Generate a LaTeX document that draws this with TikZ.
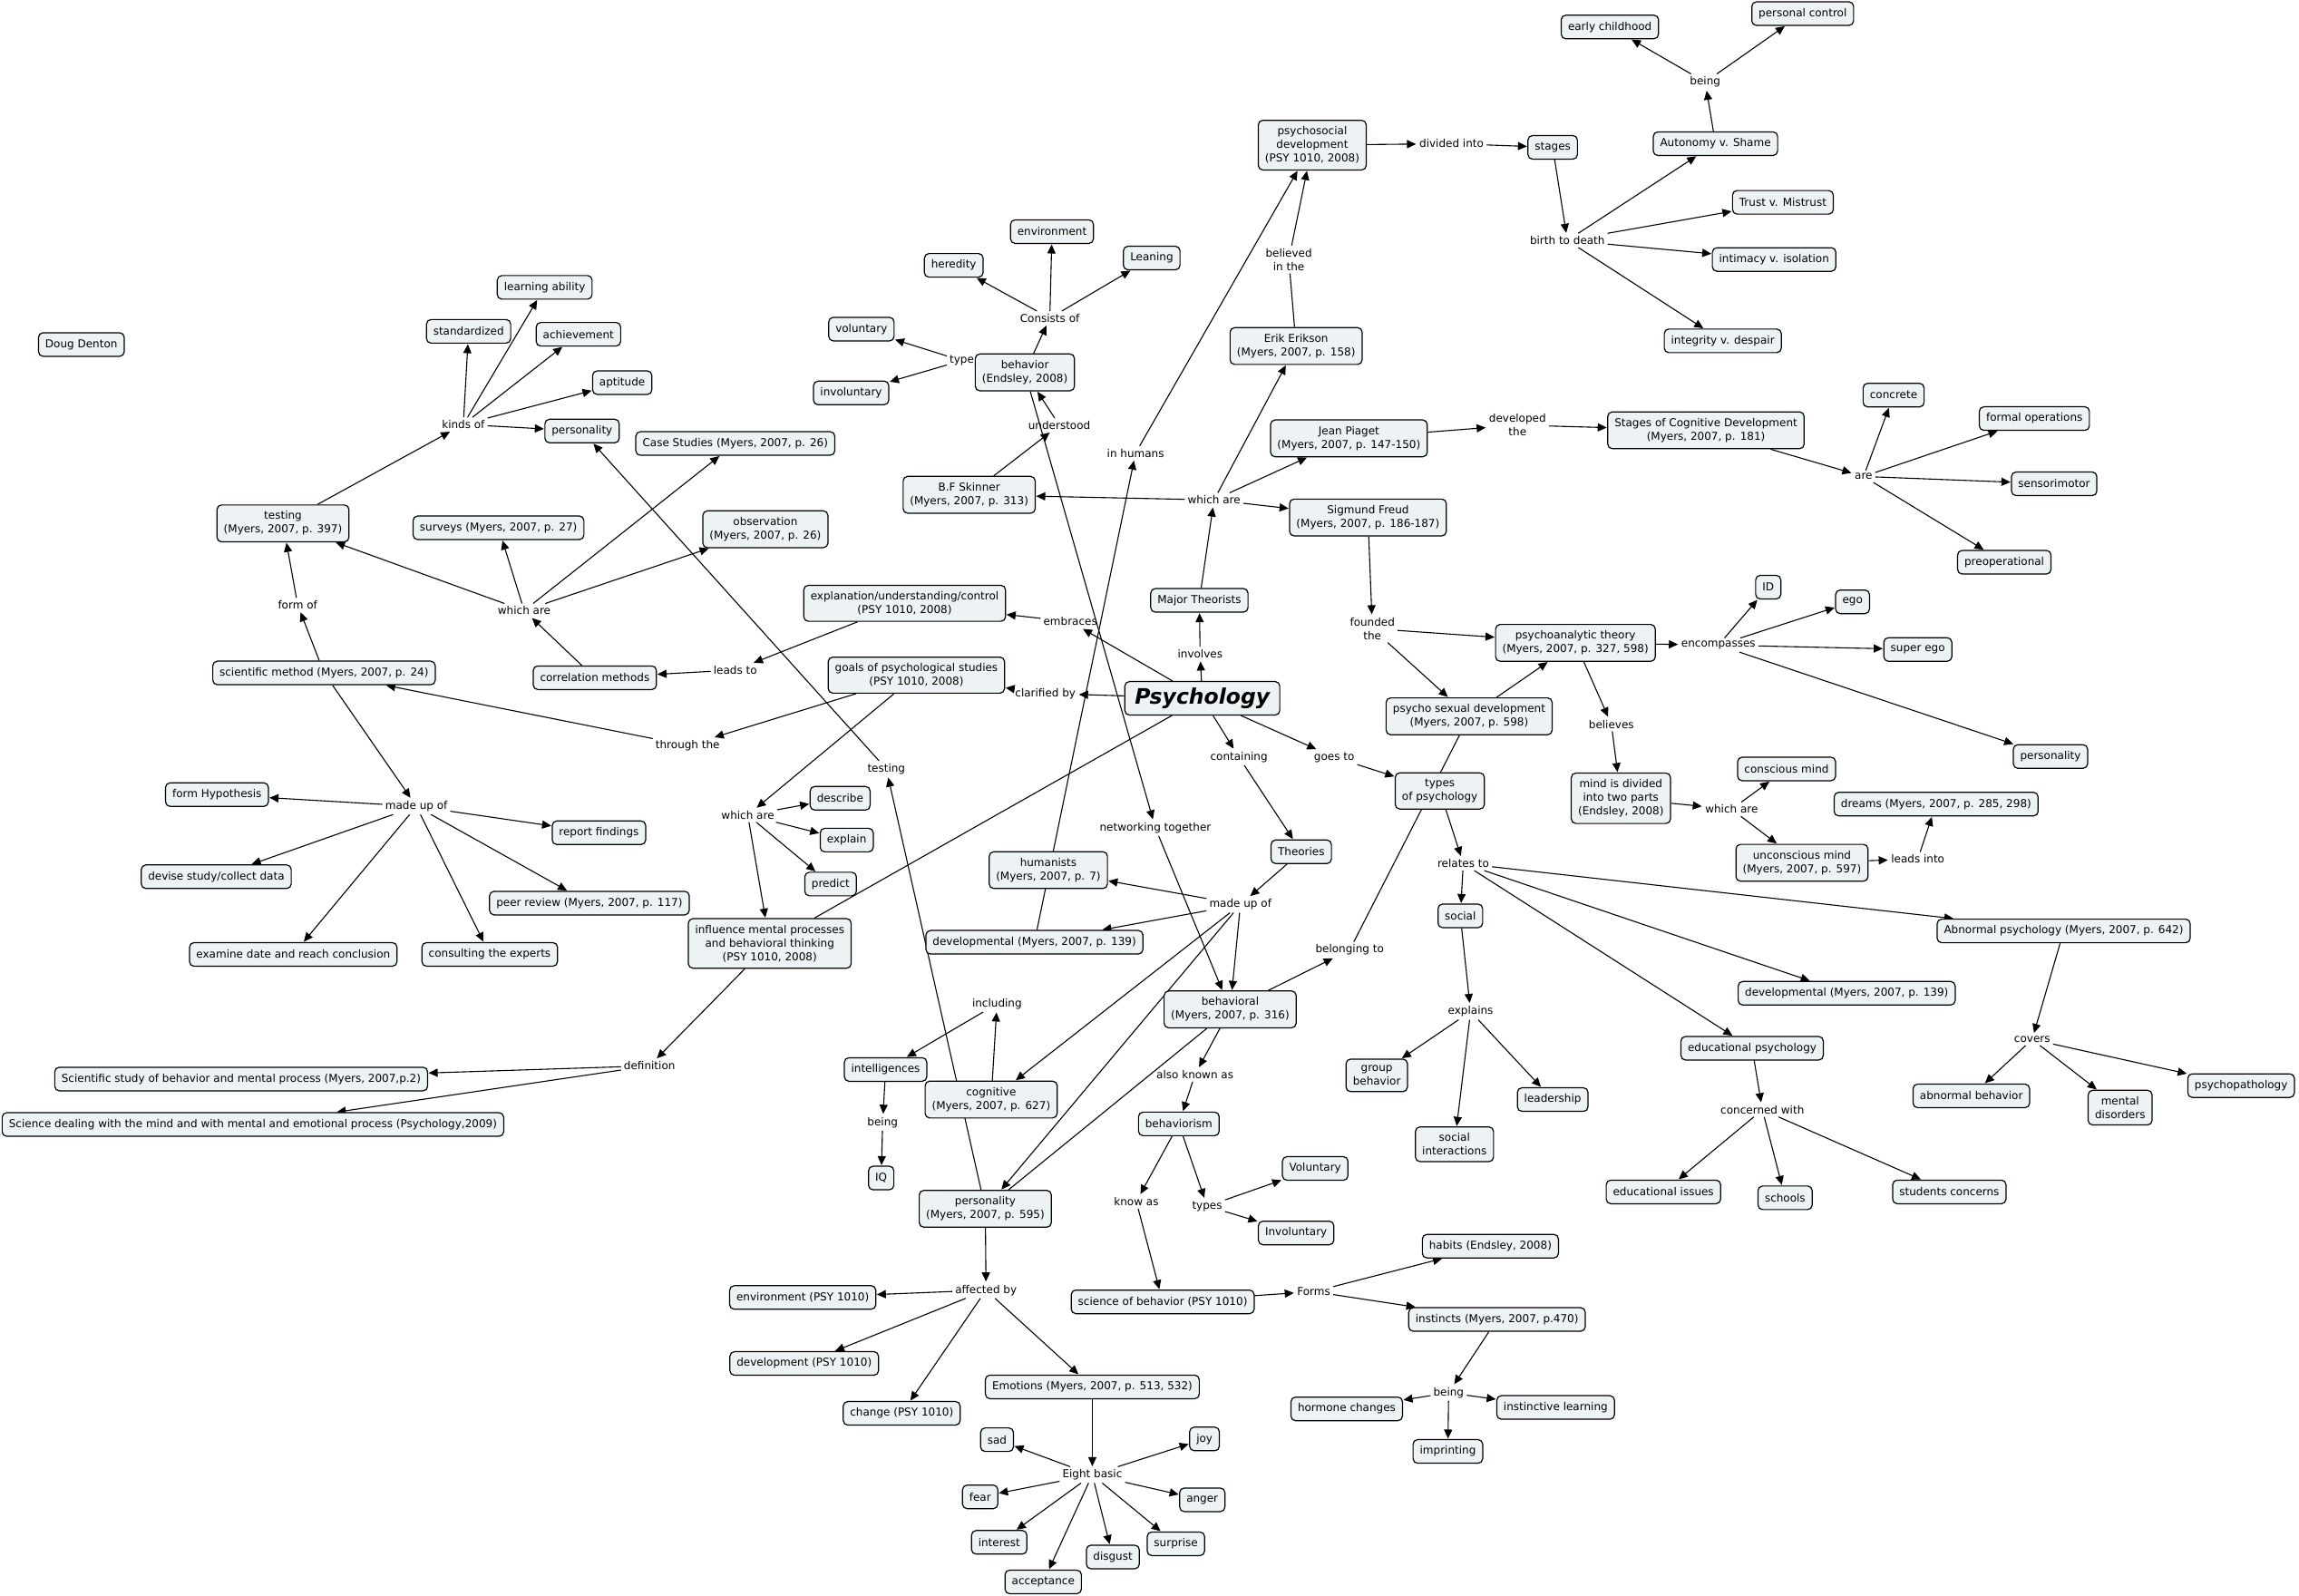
\documentclass[tikz,border=0pt]{standalone}
\usepackage{fontspec}
\setmainfont{DejaVu Sans}
\usetikzlibrary{arrows.meta,backgrounds}
\definecolor{boxfill}{RGB}{237,243,245}
\begin{document}
\begin{tikzpicture}[x=1.61671pt,y=-1.61671pt,
  box/.style={draw=black,line width=1.2pt,fill=boxfill,rounded corners=5pt,inner xsep=7.5pt,inner ysep=7pt,minimum height=26pt,align=center,font=\fontsize{12}{15}\selectfont},
  lab/.style={inner sep=3pt,align=center,font=\fontsize{12}{15}\selectfont},
  arr/.style={line width=1.1pt,-{Triangle[length=10pt,width=9pt]},shorten >=0.5pt},
  lin/.style={line width=1.1pt}]
\useasboundingbox (0,0) rectangle (1568,1088.6);
% ---------- concepts ----------
\node[box] (doug) at (55.5,235) {Doug Denton};
\node[box] (testing) at (193,357) {testing\\(Myers, 2007, p. 397)};
\node[box] (standardized) at (319.6,226) {standardized};
\node[box] (learnab) at (371.5,196) {learning ability};
\node[box] (achieve) at (394.5,228) {achievement};
\node[box] (aptitude) at (424.4,261) {aptitude};
\node[box] (perssmall) at (397,294) {personality};
\node[box] (surveys) at (340,360) {surveys (Myers, 2007, p. 27)};
\node[box] (casest) at (501.5,302.5) {Case Studies (Myers, 2007, p. 26)};
\node[box] (observ) at (522,361) {observation\\(Myers, 2007, p. 26)};
\node[box] (corrmeth) at (405.7,462.3) {correlation methods};
\node[box] (scimeth) at (221,459) {scientific method (Myers, 2007, p. 24)};
\node[box] (explan) at (617,411.5) {explanation/understanding/control\\(PSY 1010, 2008)};
\node[box] (goals) at (625,460.5) {goals of psychological studies\\(PSY 1010, 2008)};
\node[box] (formhyp) at (148,542) {form Hypothesis};
\node[box] (report) at (408.5,568) {report findings};
\node[box] (devise) at (147.5,598) {devise study/collect data};
\node[box] (peer) at (402,616) {peer review (Myers, 2007, p. 117)};
\node[box] (examine) at (200,651) {examine date and reach conclusion};
\node[box] (consult) at (334,651) {consulting the experts};
\node[box] (describe) at (573,544.5) {describe};
\node[box] (explain) at (577.5,573) {explain};
\node[box] (predict) at (566.5,603) {predict};
\node[box] (influence) at (525,643.5) {influence mental processes\\and behavioral thinking\\(PSY 1010, 2008)};
\node[box] (scistudy) at (164.5,736) {Scientific study of behavior and mental process (Myers, 2007,p.2)};
\node[box] (scideal) at (172.5,767) {Science dealing with the mind and with mental and emotional process (Psychology,2009)};
\node[box,font=\fontsize{23.5}{28}\selectfont\bfseries\itshape,inner xsep=11pt,inner ysep=7pt] (psych) at (820,476.3) {Psychology};
\node[box] (majtheo) at (818,409.5) {Major Theorists};
\node[box] (skinner) at (661,337.5) {B.F Skinner\\(Myers, 2007, p. 313)};
\node[box] (behavior) at (699,254) {behavior\\(Endsley, 2008)};
\node[box] (heredity) at (650.5,181) {heredity};
\node[box] (environment) at (717.5,158) {environment};
\node[box] (leaning) at (785.5,176) {Leaning};
\node[box] (voluntary) at (587.5,224.5) {voluntary};
\node[box] (involuntary) at (580.5,268) {involuntary};
\node[box] (erikson) at (884,236) {Erik Erikson\\(Myers, 2007, p. 158)};
\node[box] (piaget) at (920,299) {Jean Piaget\\(Myers, 2007, p. 147-150)};
\node[box] (freud) at (933,353) {Sigmund Freud\\(Myers, 2007, p. 186-187)};
\node[box] (psychosoc) at (895,99) {psychosocial\\development\\(PSY 1010, 2008)};
\node[box] (stages) at (1059,100.5) {stages};
\node[box] (autonomy) at (1170,98) {Autonomy v. Shame};
\node[box] (trust) at (1216,138) {Trust v. Mistrust};
\node[box] (intimacy) at (1210,177) {intimacy v. isolation};
\node[box] (integrity) at (1175,232.5) {integrity v. despair};
\node[box] (earlych) at (1098,18.4) {early childhood};
\node[box] (perscontrol) at (1229.5,9.3) {personal control};
\node[box] (stagescog) at (1163.5,293.5) {Stages of Cognitive Development\\(Myers, 2007, p. 181)};
\node[box] (concrete) at (1291.5,269.5) {concrete};
\node[box] (formal) at (1387.5,285.5) {formal operations};
\node[box] (sensori) at (1401,330) {sensorimotor};
\node[box] (preop) at (1367,383.5) {preoperational};
\node[box] (psychoan) at (1074.5,438.5) {psychoanalytic theory\\(Myers, 2007, p. 327, 598)};
\node[box] (id) at (1206,400.5) {ID};
\node[box] (ego) at (1263.5,410.5) {ego};
\node[box] (superego) at (1308,443) {super ego};
\node[box] (persright) at (1398.5,516) {personality};
\node[box] (mind) at (1105.5,544.5) {mind is divided\\into two parts\\(Endsley, 2008)};
\node[box] (conscious) at (1218.5,524.5) {conscious mind};
\node[box] (unconscious) at (1229,588.5) {unconscious mind\\(Myers, 2007, p. 597)};
\node[box] (dreams) at (1320.5,548.5) {dreams (Myers, 2007, p. 285, 298)};
\node[box] (psychosex) at (1002,488.6) {psycho sexual development\\(Myers, 2007, p. 598)};
\node[box] (typespsy) at (982,539.5) {types\\of psychology};
\node[box] (social) at (996,624.7) {social};
\node[box] (abnormal) at (1407.5,635) {Abnormal psychology (Myers, 2007, p. 642)};
\node[box] (devright) at (1259.5,677.5) {developmental (Myers, 2007, p. 139)};
\node[box] (educpsy) at (1195,715) {educational psychology};
\node[box] (groupbeh) at (939,733.5) {group\\behavior};
\node[box] (socialint) at (992,780.5) {social\\interactions};
\node[box] (leadership) at (1059,750) {leadership};
\node[box] (abnbeh) at (1344.5,747.5) {abnormal behavior};
\node[box] (mental) at (1446,755.5) {mental\\disorders};
\node[box] (psychopath) at (1528.5,740.5) {psychopathology};
\node[box] (eduiss) at (1134.5,813) {educational issues};
\node[box] (schools) at (1217.5,817) {schools};
\node[box] (students) at (1329.5,813) {students concerns};
\node[box] (theories) at (887.5,581) {Theories};
\node[box] (humanists) at (715,593.5) {humanists\\(Myers, 2007, p. 7)};
\node[box] (devtheo) at (705.5,642.7) {developmental (Myers, 2007, p. 139)};
\node[box] (behavioral) at (839,688.5) {behavioral\\(Myers, 2007, p. 316)};
\node[box] (cognitive) at (676,750) {cognitive\\(Myers, 2007, p. 627)};
\node[box] (persbig) at (672,824.5) {personality\\(Myers, 2007, p. 595)};
\node[box] (intelligences) at (604,729.5) {intelligences};
\node[box] (iq) at (601,803.5) {IQ};
\node[box] (behaviorism) at (804,766.6) {behaviorism};
\node[box] (voluntaryB) at (897,797) {Voluntary};
\node[box] (involuntaryB) at (884,841) {Involuntary};
\node[box] (scibeh) at (793,888) {science of behavior (PSY 1010)};
\node[box] (habits) at (1016.5,850) {habits (Endsley, 2008)};
\node[box] (instincts) at (1021,900) {instincts (Myers, 2007, p.470)};
\node[box] (hormone) at (918.5,961) {hormone changes};
\node[box] (instlearn) at (1061,960) {instinctive learning};
\node[box] (imprinting) at (987.5,990) {imprinting};
\node[box] (envpsy) at (547.5,885) {environment (PSY 1010)};
\node[box] (devpsy) at (548.5,930) {development (PSY 1010)};
\node[box] (change) at (615,964) {change (PSY 1010)};
\node[box] (emotions) at (745,946) {Emotions (Myers, 2007, p. 513, 532)};
\node[box] (sad) at (680,982) {sad};
\node[box] (joy) at (821.5,981.5) {joy};
\node[box] (fear) at (668.5,1021) {fear};
\node[box] (anger) at (820,1023) {anger};
\node[box] (interest) at (681.5,1052) {interest};
\node[box] (disgust) at (759,1062) {disgust};
\node[box] (surprise) at (802,1053) {surprise};
\node[box] (acceptance) at (711.5,1079) {acceptance};
% ---------- linking phrases ----------
\node[lab] (kindsof) at (316,289.5) {kinds of};
\node[lab] (whichareA) at (357.5,416.5) {which are};
\node[lab] (formof) at (203,412.5) {form of};
\node[lab] (leadsto) at (501.5,457) {leads to};
\node[lab] (embraces) at (730,424) {embraces};
\node[lab] (clarified) at (713,473) {clarified by};
\node[lab] (throughthe) at (469,508.5) {through the};
\node[lab] (whichareB) at (510,556) {which are};
\node[lab] (madeupA) at (284,550) {made up of};
\node[lab] (testingL) at (604.5,524.5) {testing};
\node[lab] (definition) at (443,727) {definition};
\node[lab] (involves) at (818.5,446) {involves};
\node[lab] (whichareC) at (828,341) {which are};
\node[lab] (understood) at (722.5,290) {understood};
\node[lab] (consists) at (716,217) {Consists of};
\node[lab] (type) at (656,246) {type};
\node[lab] (inhumans) at (774.5,309) {in humans};
\node[lab] (believed) at (879,177) {believed\\in the};
\node[lab] (divided) at (990,98) {divided into};
\node[lab] (birth) at (1069,164) {birth to death};
\node[lab] (beingA) at (1163,56) {being};
\node[lab] (developed) at (1035,290) {developed\\the};
\node[lab] (are) at (1271,325) {are};
\node[lab] (founded) at (936,428.8) {founded\\the};
\node[lab] (encompasses) at (1172,440) {encompasses};
\node[lab] (believes) at (1099,494) {believes};
\node[lab] (whichareD) at (1181,552) {which are};
\node[lab] (leadsinto) at (1308,586) {leads into};
\node[lab] (containing) at (845,516.5) {containing};
\node[lab] (goesto) at (910,516.5) {goes to};
\node[lab] (relates) at (998,589) {relates to};
\node[lab] (explains) at (1003,690) {explains};
\node[lab] (covers) at (1386,709) {covers};
\node[lab] (concerned) at (1202,757) {concerned with};
\node[lab] (belonging) at (920.5,648) {belonging to};
\node[lab] (networking) at (788,564.7) {networking together};
\node[lab] (madeupB) at (846,617) {made up of};
\node[lab] (including) at (680,684.7) {including};
\node[lab] (beingB) at (602,765.6) {being};
\node[lab] (alsoknown) at (815,733) {also known as};
\node[lab] (knowas) at (775,819.6) {know as};
\node[lab] (types) at (823.3,822.7) {types};
\node[lab] (forms) at (896,881) {Forms};
\node[lab] (beingC) at (988,950) {being};
\node[lab] (affected) at (672.5,880) {affected by};
\node[lab] (eight) at (745,1006) {Eight basic};
% ---------- connectors ----------
\begin{scope}[on background layer]
\foreach \a/\b in {testing/kindsof, kindsof/standardized, kindsof/learnab, kindsof/achieve, kindsof/aptitude, kindsof/perssmall,
 whichareA/testing, whichareA/surveys, whichareA/casest, whichareA/observ, corrmeth/whichareA,
 scimeth/formof, formof/testing, explan/leadsto, leadsto/corrmeth, psych/embraces, embraces/explan, psych/clarified, clarified/goals,
 goals/throughthe, throughthe/scimeth, goals/whichareB, whichareB/describe, whichareB/explain, whichareB/predict, whichareB/influence,
 scimeth/madeupA, madeupA/formhyp, madeupA/report, madeupA/devise, madeupA/peer, madeupA/examine, madeupA/consult,
 persbig/testingL, testingL/perssmall, influence/definition, definition/scistudy, definition/scideal,
 psych/involves, involves/majtheo, majtheo/whichareC, whichareC/skinner, whichareC/piaget, whichareC/freud, whichareC/erikson,
 skinner/understood, understood/behavior, behavior/networking, networking/behavioral, behavior/consists, consists/heredity, consists/environment, consists/leaning,
 type/voluntary, type/involuntary,
 devtheo/inhumans, inhumans/psychosoc, believed/psychosoc, psychosoc/divided, divided/stages, stages/birth, birth/autonomy, birth/trust, birth/intimacy, birth/integrity,
 autonomy/beingA, beingA/earlych, beingA/perscontrol,
 piaget/developed, developed/stagescog, stagescog/are, are/concrete, are/formal, are/sensori, are/preop,
 freud/founded, founded/psychoan, founded/psychosex, psychosex/psychoan, psychoan/encompasses, encompasses/id, encompasses/ego, encompasses/superego, encompasses/persright,
 psychoan/believes, believes/mind, mind/whichareD, whichareD/conscious, whichareD/unconscious, unconscious/leadsinto, leadsinto/dreams,
 psych/containing, containing/theories, psych/goesto, goesto/typespsy, typespsy/relates, relates/social, relates/abnormal, relates/devright, relates/educpsy,
 social/explains, explains/groupbeh, explains/socialint, explains/leadership, abnormal/covers, covers/abnbeh, covers/mental, covers/psychopath,
 educpsy/concerned, concerned/eduiss, concerned/schools, concerned/students,
 behavioral/belonging, theories/madeupB, madeupB/humanists, madeupB/devtheo, madeupB/behavioral, madeupB/cognitive, madeupB/persbig,
 cognitive/including, including/intelligences, intelligences/beingB, beingB/iq, behavioral/alsoknown, alsoknown/behaviorism,
 behaviorism/knowas, knowas/scibeh, behaviorism/types, types/voluntaryB, types/involuntaryB, scibeh/forms, forms/habits, forms/instincts,
 instincts/beingC, beingC/hormone, beingC/instlearn, beingC/imprinting,
 persbig/affected, affected/envpsy, affected/devpsy, affected/change, affected/emotions,
 emotions/eight, eight/sad, eight/joy, eight/fear, eight/anger, eight/interest, eight/disgust, eight/surprise, eight/acceptance}
 \draw[arr] (\a) -- (\b);
\foreach \a/\b in {behavior/type, erikson/believed, psych/influence, behavioral/persbig, belonging/psychosex}
 \draw[lin] (\a) -- (\b);
\end{scope}
\end{tikzpicture}
\end{document}
